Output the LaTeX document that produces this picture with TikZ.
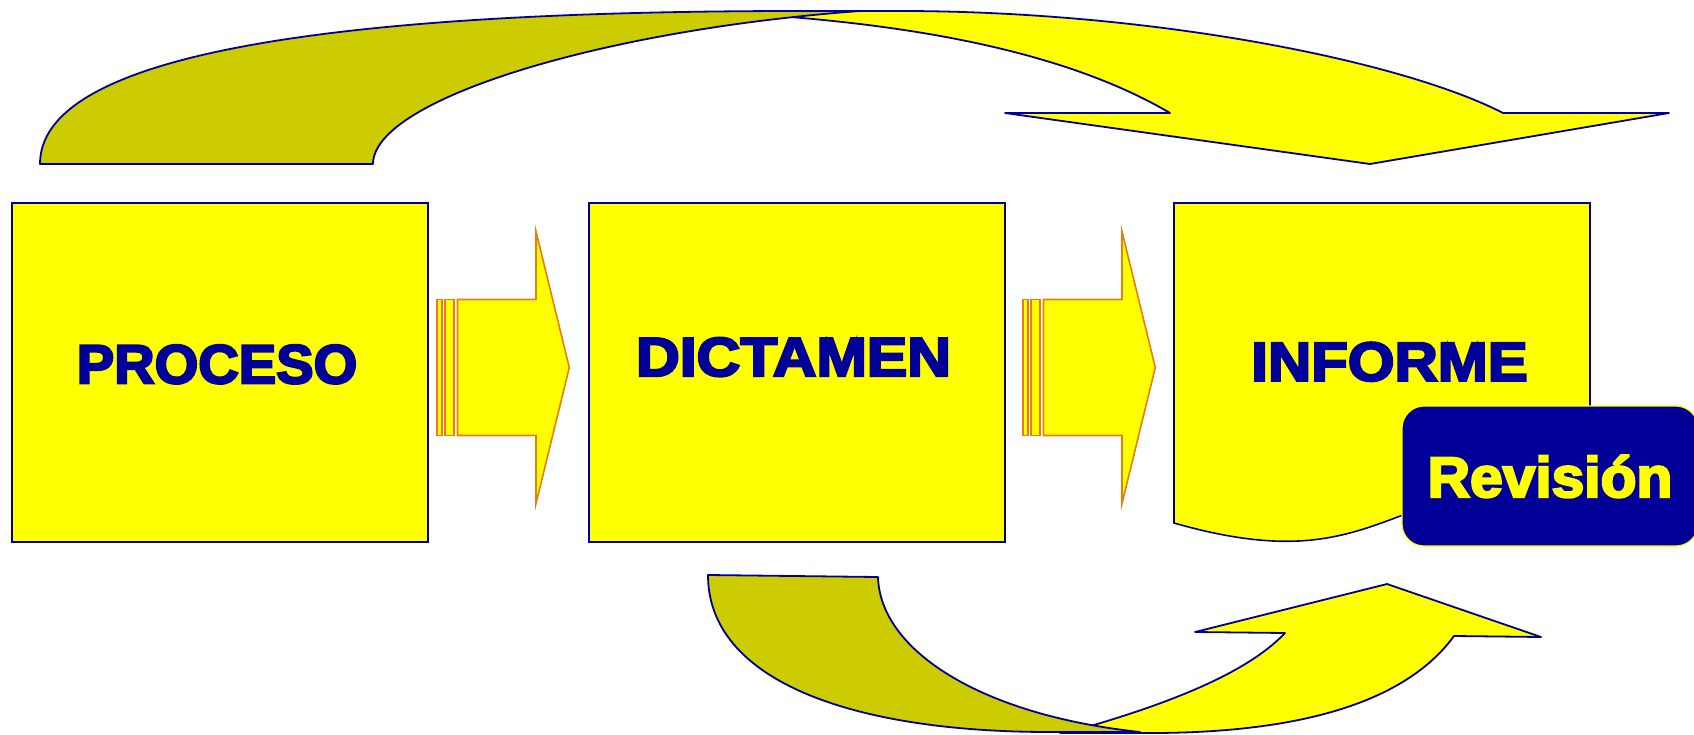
\documentclass[tikz,border=0pt]{standalone}
\usepackage{fontspec}
\setmainfont{Liberation Sans}
\newfontfamily\heavy{Liberation Sans}[UprightFont=*, UprightFeatures={FakeBold=4}, BoldFeatures={FakeBold=4}]
\usepackage{graphicx}
\definecolor{navy}{RGB}{0,0,153}
\definecolor{yel}{RGB}{255,255,0}
\definecolor{olivey}{RGB}{204,204,0}
\definecolor{org}{RGB}{232,125,20}
\begin{document}
\begin{tikzpicture}[x=1pt,y=-1pt,
  box/.style={draw=navy, line width=1.6pt, fill=yel, rectangle, inner sep=0pt, minimum width=416pt, minimum height=339pt},
  lbl/.style={text=navy, font=\fontsize{55}{60}\heavy\bfseries, anchor=base, inner sep=0pt},
  blk/.style={draw=org, line width=1.6pt, fill=yel, line join=miter},
  rib/.style={draw=navy, line width=1.8pt, line join=round},
  revbox/.style={draw=yel, line width=1.2pt, fill=navy, rounded corners=22pt, minimum width=296pt, minimum height=140pt, inner sep=0pt},
  revlbl/.style={text=yel, font=\fontsize{57}{62}\heavy\bfseries, anchor=base, inner sep=0pt}
]
\useasboundingbox (0,0) rectangle (1694,734);

% boxes
\node[box] (proceso) at (220,372.5) {};
\node[box] (dictamen) at (797,372.5) {};
\draw[draw=navy, line width=1.6pt, fill=yel] (1174,203) coordinate (informe) -- (1590,203) -- (1590,478)
   .. controls (1382,478) and (1382,582.4) .. (1174,523) -- cycle;

\node[lbl] (tproc) at (217,383.3) {\scalebox{1.02}[1]{PROCESO}};
\node[lbl] (tdict) at (793.5,376) {\scalebox{1.1}[1]{DICTAMEN}};
\node[lbl] (tinf) at (1389.5,380.7) {\scalebox{1.09}[1]{INFORME}};

% block arrows
\foreach \dx in {0,586} {
  \begin{scope}[xshift=\dx pt]
    \draw[blk] (436.7,299.5) rectangle (441.7,435.5);
    \draw[blk] (445,299.5) rectangle (454,435.5);
    \draw[blk] (457.5,299.5) -- (536,299.5) -- (536,231.5) -- (569.3,367.5) -- (536,503.5) -- (536,435.5) -- (457.5,435.5) -- cycle;
  \end{scope}
}

% top curved arrow
\draw[rib, fill=yel] (790,17) .. controls (950,30) and (1080,60) .. (1170,113) -- (1005,113) -- (1370,164) -- (1669,113) -- (1503,113)
   .. controls (1400,60) and (1150,11) .. (900,11) -- (790,11) -- cycle;
\draw[rib, fill=olivey] (40,164) -- (373,164) .. controls (373,100) and (600,30) .. (860,11) -- (800,11)
   .. controls (300,11) and (40,60) .. (40,164) -- cycle;

% bottom curved arrow
\draw[rib, fill=yel] (1087,727) .. controls (1180,700) and (1250,670) .. (1285,633) -- (1195,632) -- (1387,584) -- (1541,637) -- (1454,636)
   .. controls (1400,710) and (1280,733) .. (1150,733) -- (1060,733) -- cycle;
\draw[rib, fill=olivey] (708,575) -- (878,577) .. controls (880,650) and (980,715) .. (1140,732) -- (1050,732)
   .. controls (850,732) and (708,680) .. (708,575) -- cycle;

% Revision box
\node[revbox] (rev) at (1550,476) {};
\node[revlbl] (trev) at (1550,497) {\scalebox{1.03}[1]{Revisión}};
\end{tikzpicture}
\end{document}
